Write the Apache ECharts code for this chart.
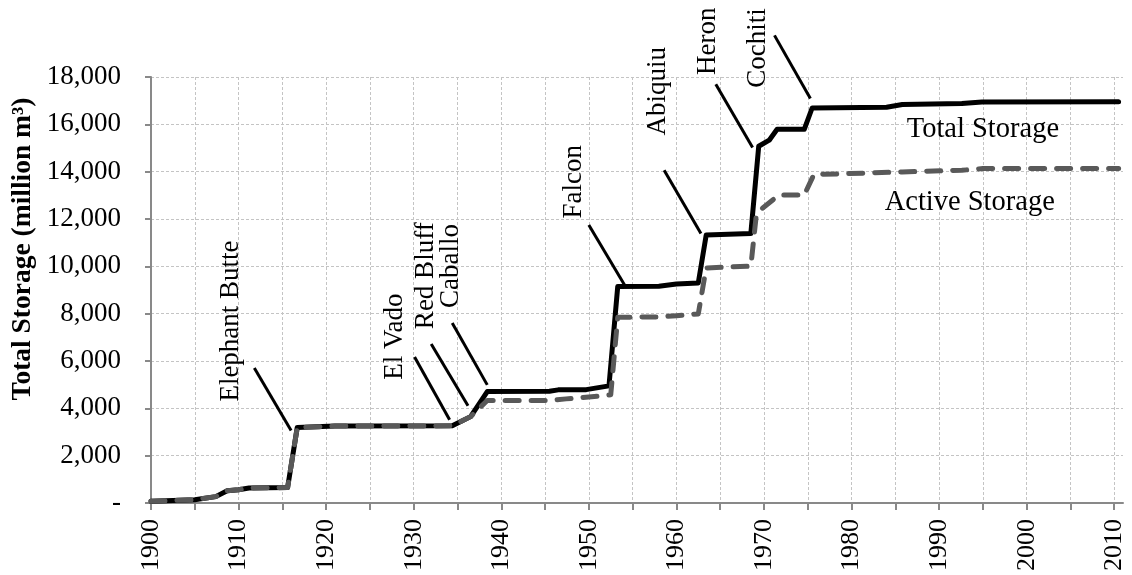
<!DOCTYPE html>
<html>
<head>
<meta charset="utf-8">
<script src="https://cdn.jsdelivr.net/npm/echarts@6/dist/echarts.min.js"></script>
<style>
html,body{margin:0;padding:0;background:#fff;}
#main{width:1132px;height:575px;}
</style>
</head>
<body>
<div id="main"></div>
<script>
// storage curves, [year, million m3]
var totalStorage = [
  [1900, 70], [1905, 140], [1907.4, 270], [1908.7, 520], [1910, 560], [1911.2, 630],
  [1915.6, 650], [1916.7, 3190], [1921, 3250], [1934.4, 3260], [1936.5, 3650],
  [1938.4, 4710], [1945.5, 4720], [1946.5, 4780], [1949.7, 4790], [1952.3, 4950],
  [1953.3, 9150], [1958, 9160], [1960, 9250], [1962.5, 9300], [1963.4, 11320],
  [1968.5, 11390], [1969.4, 15075], [1970.6, 15330], [1971.5, 15790], [1974.6, 15790],
  [1975.5, 16690], [1984, 16720], [1985.8, 16835], [1992.6, 16876], [1994.9, 16945],
  [2010.5, 16950]
];
var activeStorage = [
  [1900, 70], [1905, 140], [1907.4, 270], [1908.7, 520], [1910, 560], [1911.2, 630],
  [1915.6, 650], [1916.7, 3190], [1921, 3250], [1934.4, 3260], [1936.5, 3650],
  [1938.4, 4330], [1945.5, 4330], [1947.4, 4400], [1950, 4480], [1952.5, 4570],
  [1953.3, 7850], [1958, 7860], [1960, 7910], [1962.5, 7990], [1963.4, 9930],
  [1968.5, 10010], [1969.1, 12090], [1969.8, 12450], [1971.7, 13010], [1974.6, 13010],
  [1975.7, 13880], [1979.7, 13920], [1985.8, 13990], [1992.6, 14060], [1995, 14130],
  [2010.5, 14130]
];

var yearTicks = [1900, 1905, 1910, 1915, 1920, 1925, 1930, 1935, 1940, 1945, 1950, 1955,
  1960, 1965, 1970, 1975, 1980, 1985, 1990, 1995, 2000, 2005, 2010];
var yearLabels = [1900, 1910, 1920, 1930, 1940, 1950, 1960, 1970, 1980, 1990, 2000, 2010];

// dam annotations
var damNames = ['Elephant Butte', 'El Vado', 'Red Bluff', 'Caballo', 'Falcon', 'Abiquiu', 'Heron', 'Cochiti'];
var damTextAt = [[1909.1, 7690], [1927.8, 7029], [1931.4, 9602], [1934.3, 10012],
  [1948.3, 13569], [1957.9, 17395], [1963.6, 19513], [1969.3, 19230]];
var leaderFrom = [[1911.8, 5708], [1930.1, 6172], [1932.0, 6721], [1934.4, 7607],
  [1950.0, 11750], [1958.6, 14062], [1964.5, 17690], [1971.2, 19759]];
var leaderTo = [[1916.0, 3063], [1934.1, 3514], [1936.2, 4105], [1938.4, 4991],
  [1954.2, 9135], [1962.8, 11391], [1968.7, 15020], [1975.3, 17087]];

var curveNames = ['Total Storage', 'Active Storage'];
var curveTextAt = [[1995.0, 15790], [1993.5, 12712]];

var serif = "'Liberation Serif', 'DejaVu Serif', serif";
var axisGray = '#898989';
var gridGray = '#c4c4c4';

var myChart = echarts.init(document.getElementById('main'));

var series = [
  {
    name: curveNames[0],
    type: 'line',
    data: totalStorage,
    showSymbol: false,
    z: 3,
    lineStyle: {color: '#000', width: 5, cap: 'round', join: 'round'}
  },
  {
    name: curveNames[1],
    type: 'line',
    data: activeStorage,
    showSymbol: false,
    z: 4,
    lineStyle: {color: '#595959', width: 5, type: [14, 12], cap: 'round', join: 'round'}
  }
];
// leader lines for the dams
damNames.forEach(function(n, i){
  series.push({
    name: n,
    type: 'line',
    data: [leaderFrom[i], leaderTo[i]],
    showSymbol: false,
    clip: false,
    silent: true,
    z: 5,
    lineStyle: {color: '#000', width: 3}
  });
});

var option = {
  animation: false,
  backgroundColor: '#fff',
  grid: {left: 151, right: 9, top: 77, bottom: 72},
  xAxis: {
    type: 'value',
    min: 1900,
    max: 2011,
    interval: 5,
    axisLine: {show: true, onZero: false, lineStyle: {color: axisGray, width: 2}},
    axisTick: {show: true, length: 7, customValues: yearTicks, lineStyle: {color: axisGray, width: 2}},
    axisLabel: {
      customValues: yearLabels,
      rotate: 90,
      margin: 16,
      color: '#000',
      fontFamily: serif,
      fontSize: 26,
      formatter: function(v){ return String(v); }
    },
    splitLine: {show: true, lineStyle: {color: gridGray, width: 1, type: [3, 2]}}
  },
  yAxis: {
    type: 'value',
    min: 0,
    max: 18000,
    interval: 2000,
    axisLine: {show: true, lineStyle: {color: axisGray, width: 2}},
    axisTick: {show: true, length: 6, lineStyle: {color: axisGray, width: 2}},
    axisLabel: {
      margin: 30,
      color: '#000',
      fontFamily: serif,
      fontSize: 27,
      formatter: function(v){ return v === 0 ? '-' : v.toLocaleString('en-US'); }
    },
    splitLine: {show: true, lineStyle: {color: gridGray, width: 1, type: [3, 2]}}
  },
  series: series
};
myChart.setOption(option);

// text annotations placed through the axes
var texts = [];
damNames.forEach(function(n, i){
  var p = myChart.convertToPixel({gridIndex: 0}, damTextAt[i]);
  texts.push({
    type: 'text', x: p[0], y: p[1], rotation: Math.PI / 2, z: 10,
    style: {text: n, fill: '#000', font: '27px ' + serif, align: 'center', verticalAlign: 'middle'}
  });
});
curveNames.forEach(function(n, i){
  var p = myChart.convertToPixel({gridIndex: 0}, curveTextAt[i]);
  texts.push({
    type: 'text', x: p[0], y: p[1], z: 10,
    style: {text: n, fill: '#000', font: '28.5px ' + serif, align: 'center', verticalAlign: 'middle'}
  });
});
texts.push({
  type: 'text', x: 23, y: 249, rotation: Math.PI / 2, z: 10,
  style: {text: 'Total Storage (million m\u00b3)', fill: '#000', font: 'bold 27.5px ' + serif, align: 'center', verticalAlign: 'middle'}
});
myChart.setOption({graphic: texts});
</script>
</body>
</html>
